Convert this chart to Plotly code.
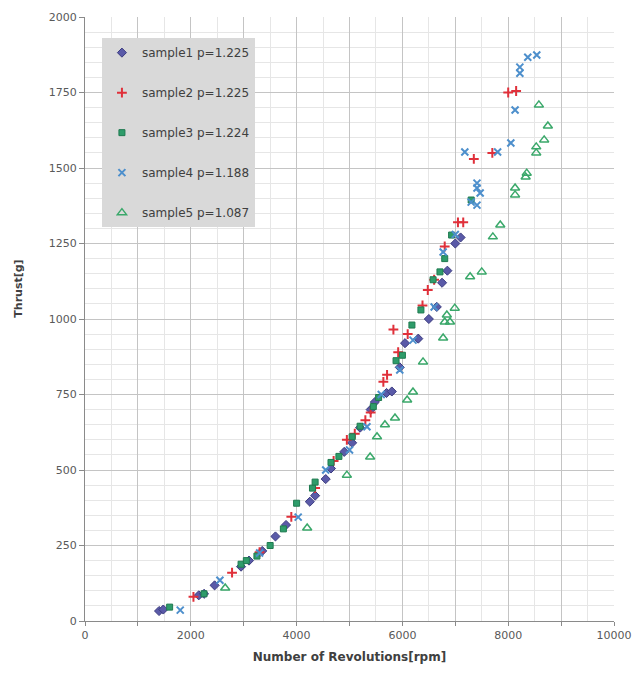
import plotly.graph_objects as go

# ---- data ----
s1_rpm = [1400, 1480, 2150, 2250, 2450, 2950, 3100, 3350, 3600, 3800, 4250, 4350, 4550, 4650, 4900,
          5050, 5200, 5400, 5480, 5700, 5800, 5950, 6050, 6300, 6500, 6650, 6750, 6850, 7000, 7100]
s1_thrust = [33, 38, 85, 90, 118, 180, 200, 232, 280, 318, 395, 415, 470, 505, 560,
             590, 640, 700, 725, 755, 760, 840, 920, 935, 1000, 1040, 1120, 1160, 1250, 1270]

s2_rpm = [2050, 2780, 3300, 3900, 4350, 4700, 4950, 5100, 5300, 5400, 5640, 5710, 5830, 5920, 6100,
          6380, 6480, 6600, 6800, 7050, 7150, 7350, 7700, 8000, 8150]
s2_thrust = [80, 160, 228, 345, 440, 530, 600, 620, 665, 690, 792, 815, 965, 890, 950,
             1045, 1096, 1130, 1240, 1320, 1320, 1530, 1550, 1750, 1755]

s3_rpm = [1600, 2250, 2950, 3050, 3250, 3500, 3750, 4000, 4300, 4350, 4650, 4800, 5050, 5200, 5450,
          5550, 5880, 6000, 6180, 6350, 6580, 6710, 6800, 6930, 7300]
s3_thrust = [46, 90, 188, 200, 215, 250, 305, 390, 440, 460, 525, 545, 610, 645, 710,
             740, 862, 880, 980, 1030, 1130, 1156, 1200, 1278, 1394]

s4_rpm = [1800, 2550, 3300, 4030, 4550, 5000, 5330, 5600, 5950, 6200, 6600, 6770, 7000, 7180, 7300,
          7410, 7410, 7470, 7410, 7800, 8050, 8130, 8220, 8220, 8370, 8540]
s4_thrust = [36, 135, 225, 344, 500, 566, 643, 750, 831, 930, 1040, 1222, 1280, 1553, 1387,
             1450, 1434, 1417, 1377, 1553, 1583, 1692, 1814, 1834, 1867, 1874]

s5_rpm = [2650, 4200, 4950, 5390, 5520, 5670, 5860, 6090, 6200, 6390, 6770, 6800, 6840, 6900, 6990,
          7280, 7500, 7710, 7850, 8130, 8130, 8330, 8350, 8530, 8530, 8680, 8750, 8580]
s5_thrust = [109, 308, 483, 543, 610, 650, 672, 732, 758, 858, 937, 990, 1013, 990, 1036,
             1140, 1156, 1272, 1311, 1411, 1434, 1470, 1483, 1550, 1570, 1593, 1639, 1709]

series_names = ["sample1 p=1.225", "sample2 p=1.225", "sample3 p=1.224",
                "sample4 p=1.188", "sample5 p=1.087"]

x_tickvals = [0, 1000, 2000, 3000, 4000, 5000, 6000, 7000, 8000, 9000, 10000]
x_ticktext = ["0", "", "2000", "", "4000", "", "6000", "", "8000", "", "10000"]
y_tickvals = [0, 250, 500, 750, 1000, 1250, 1500, 1750, 2000]

# ---- styles ----
styles = [
    dict(symbol="diamond", size=7, color="#5a5aa8", line=dict(color="#3c3c80", width=1)),
    dict(symbol="cross-thin-open", size=7, color="#e0303a", line=dict(color="#e0303a", width=2)),
    dict(symbol="square", size=6, color="#2e9c6a", line=dict(color="#1f7a50", width=1)),
    dict(symbol="x-thin-open", size=7, color="#4d8fcc", line=dict(color="#4d8fcc", width=2)),
    dict(symbol="triangle-up-open", size=8, color="#3aa86a", line=dict(color="#3aa86a", width=1.5)),
]

data = [(s1_rpm, s1_thrust), (s2_rpm, s2_thrust), (s3_rpm, s3_thrust),
        (s4_rpm, s4_thrust), (s5_rpm, s5_thrust)]

fig = go.Figure()
for i, ((xs, ys), name, st) in enumerate(zip(data, series_names, styles)):
    fig.add_trace(go.Scatter(x=xs, y=ys, mode="markers", name=name,
                             legendgroup=f"g{i}", marker=st))

tickfont = dict(family="DejaVu Sans", size=11, color="#595959")

fig.update_layout(
    width=632, height=673,
    margin=dict(l=85, r=18, t=17, b=52, autoexpand=False),
    paper_bgcolor="white", plot_bgcolor="white",
    showlegend=True,
    legend=dict(
        x=0.032, y=0.965, xanchor="left", yanchor="top",
        bgcolor="#d9d9d9", borderwidth=0,
        font=dict(family="DejaVu Sans", size=12, color="#404040"),
        tracegroupgap=21, itemwidth=30,
    ),
    xaxis=dict(
        range=[0, 10000], tickvals=x_tickvals, ticktext=x_ticktext,
        showgrid=True, gridcolor="#c4c4c4", gridwidth=1,
        minor=dict(dtick=500, showgrid=True, gridcolor="#e6e6e6", ticks=""),
        showline=True, linecolor="#8a8a8a", linewidth=1,
        ticks="outside", ticklen=4, tickcolor="#8a8a8a",
        tickfont=tickfont, zeroline=False, automargin=False,
        title=dict(text="<b>Number of Revolutions[rpm]</b>",
                   font=dict(family="DejaVu Sans", size=12, color="#404040"), standoff=11),
    ),
    yaxis=dict(
        range=[0, 2000], tickvals=y_tickvals,
        showgrid=True, gridcolor="#c4c4c4", gridwidth=1,
        minor=dict(dtick=50, showgrid=True, gridcolor="#e6e6e6", ticks=""),
        showline=True, linecolor="#8a8a8a", linewidth=1,
        ticks="outside", ticklen=5, tickcolor="#8a8a8a",
        tickfont=tickfont, zeroline=False, automargin=False,
    ),
)

fig.add_annotation(
    text="<b>Thrust[g]</b>", textangle=-90,
    xref="paper", yref="paper", x=-0.125, y=0.55, xanchor="center", yanchor="middle",
    showarrow=False, font=dict(family="DejaVu Sans", size=11, color="#404040"),
)

fig.write_html("out.html", config={"displayModeBar": False},
               post_script="document.body.style.margin='0';")
